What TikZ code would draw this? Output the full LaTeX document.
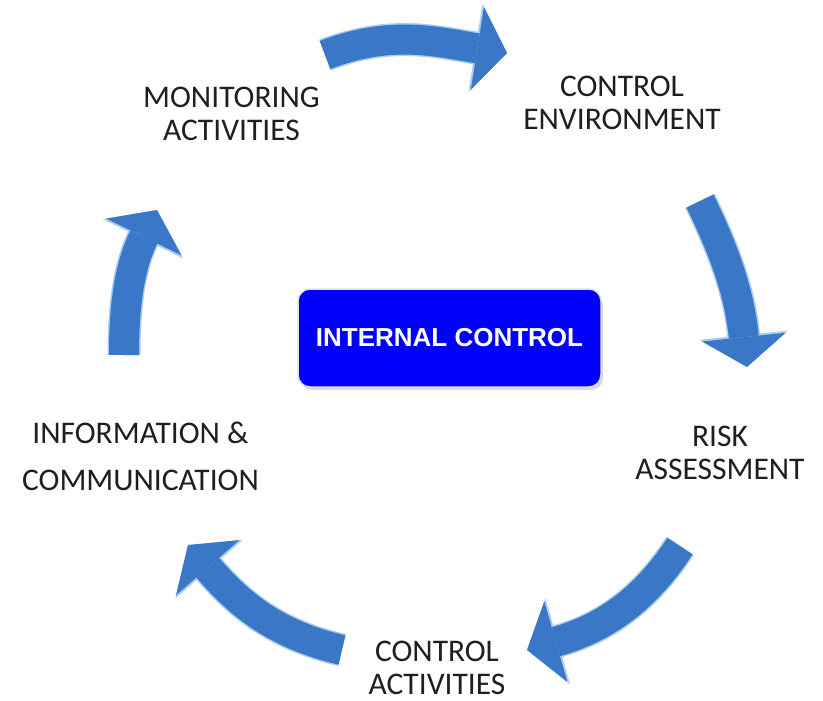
\documentclass[tikz,border=0pt]{standalone}
\usepackage{fontspec}
\setmainfont{Carlito}
\newfontfamily\boxfont{Liberation Sans}
\usetikzlibrary{arrows.meta,shadows}
\definecolor{flowblue}{HTML}{3A77C6}
\definecolor{flowlight}{HTML}{A8CDF0}
\definecolor{boxblue}{HTML}{0000FF}
\tikzstyle{stage} = [align=center, text=black!88, font=\fontsize{31.5}{33}\selectfont]
\tikzstyle{core} = [rectangle, rounded corners=12pt, fill=boxblue, draw=black!12, line width=1.5pt, minimum width=303pt, minimum height=98pt, text=white, font=\boxfont\bfseries\fontsize{26}{30}\selectfont, drop shadow={shadow xshift=2pt, shadow yshift=-3pt, opacity=0.3}]
\tikzstyle{flow} = [line width=30pt, draw=flowblue, -{Triangle[length=30pt,width=84pt,line width=0pt]},
  preaction={draw=flowlight, line width=33pt, -{Triangle[length=32pt,width=89pt,line width=0pt]}}]

\begin{document}
\begin{tikzpicture}
  \useasboundingbox (0pt,0pt) rectangle (823pt,-701pt);
  \draw (449.5pt, -338.0pt)node[core](ic){INTERNAL CONTROL};
  \draw (231.5pt, -114.0pt)node[stage](mon){MONITORING\\ACTIVITIES};
  \draw (622.0pt, -103.0pt)node[stage](env){CONTROL\\ENVIRONMENT};
  \draw (720.0pt, -453.0pt)node[stage](risk){RISK\\ASSESSMENT};
  \draw (437.0pt, -668.0pt)node[stage](act){CONTROL\\ACTIVITIES};
  \draw (140.5pt, -456.0pt)node[stage, font=\fontsize{31.5}{47}\selectfont](info){INFORMATION \&\\COMMUNICATION};
  % ends of the arrows
  \coordinate (mon-env) at (325pt, -55pt);
  \coordinate (env-in) at (507pt, -53pt);
  \coordinate (env-risk) at (700pt, -201pt);
  \coordinate (risk-in) at (747pt, -367pt);
  \coordinate (risk-act) at (680pt, -546pt);
  \coordinate (act-in) at (527pt, -650pt);
  \coordinate (act-info) at (342pt, -650pt);
  \coordinate (info-in) at (188pt, -545pt);
  \coordinate (info-mon) at (124pt, -355pt);
  \coordinate (mon-in) at (157pt, -210pt);
  \draw[flow] (mon-env) to[out=21, in=171] (env-in);
  \draw[flow] (env-risk) to[out=-64, in=96] (risk-in);
  \draw[flow] (risk-act) to[out=237, in=16] (act-in);
  \draw[flow] (act-info) to[out=167, in=-49] (info-in);
  \draw[flow] (info-mon) to[out=90, in=244] (mon-in);
\end{tikzpicture}
\end{document}
